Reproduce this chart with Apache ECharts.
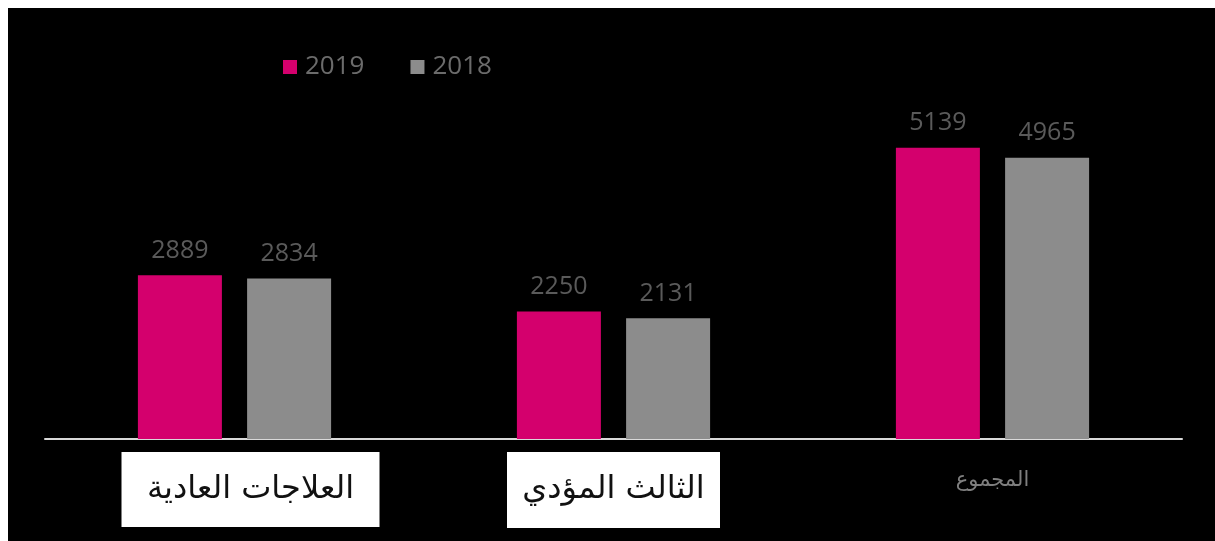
<!DOCTYPE html>
<html>
<head>
<meta charset="utf-8">
<script src="https://cdn.jsdelivr.net/npm/echarts@6/dist/echarts.min.js"></script>
<style>
  html, body { margin: 0; padding: 0; background: #ffffff; width: 1215px; height: 541px; overflow: hidden; }
  #chart { position: absolute; left: 8px; top: 8px; width: 1207px; height: 533px; background: #000000; }
</style>
</head>
<body>
<div id="chart"></div>
<script>
// Patient counts by treatment type, 2019 vs 2018
const categories = ['العلاجات العادية', 'الثالث المؤدي', 'المجموع'];
const seriesNames = ['2019', '2018'];
const values2019 = [2889, 2250, 5139];
const values2018 = [2834, 2131, 4965];

const chart = echarts.init(document.getElementById('chart'), null, { renderer: 'canvas' });

const valueLabel = {
  show: true,
  position: 'top',
  distance: 12,
  color: '#5a5a5a',
  fontSize: 25,
  fontFamily: 'Open Sans'
};

chart.setOption({
  backgroundColor: '#000000',
  animation: false,
  legend: {
    data: seriesNames,
    left: 270,
    top: 41,
    icon: 'rect',
    itemWidth: 14,
    itemHeight: 14,
    itemGap: 46,
    textStyle: { color: '#6b6b6b', fontSize: 26, fontFamily: 'Open Sans', padding: [0, 0, 0, 3] }
  },
  grid: { left: 37, right: 33, top: 91, bottom: 102, containLabel: false },
  xAxis: {
    type: 'category',
    data: categories,
    axisTick: { show: false },
    axisLine: { lineStyle: { color: '#d9d9d9', width: 2 } },
    axisLabel: {
      interval: 0,
      margin: 13,
      formatter: function (v, i) {
        if (i === 0) return '{sp|}{b1|' + v + '}';
        if (i === 1) return '{b2|' + v + '}';
        return '{t|' + v + '}';
      },
      rich: {
        sp: { width: 32, height: 75 },
        b1: { width: 258, height: 75, align: 'center', backgroundColor: '#ffffff', color: '#111111', fontSize: 32, fontFamily: 'DejaVu Sans' },
        b2: { width: 213, height: 76, align: 'center', backgroundColor: '#ffffff', color: '#111111', fontSize: 32, fontFamily: 'DejaVu Sans' },
        t: { height: 58, align: 'center', color: '#7f7f7f', fontSize: 21, fontFamily: 'DejaVu Sans' }
      }
    }
  },
  yAxis: { type: 'value', min: 0, max: 6000, show: false },
  series: [
    {
      name: seriesNames[0],
      type: 'bar',
      data: values2019,
      barWidth: 84,
      barGap: '30%',
      itemStyle: { color: '#d4006d' },
      label: valueLabel
    },
    {
      name: seriesNames[1],
      type: 'bar',
      data: values2018,
      barWidth: 84,
      barGap: '30%',
      itemStyle: { color: '#8c8c8c' },
      label: valueLabel
    }
  ]
});
</script>
</body>
</html>
